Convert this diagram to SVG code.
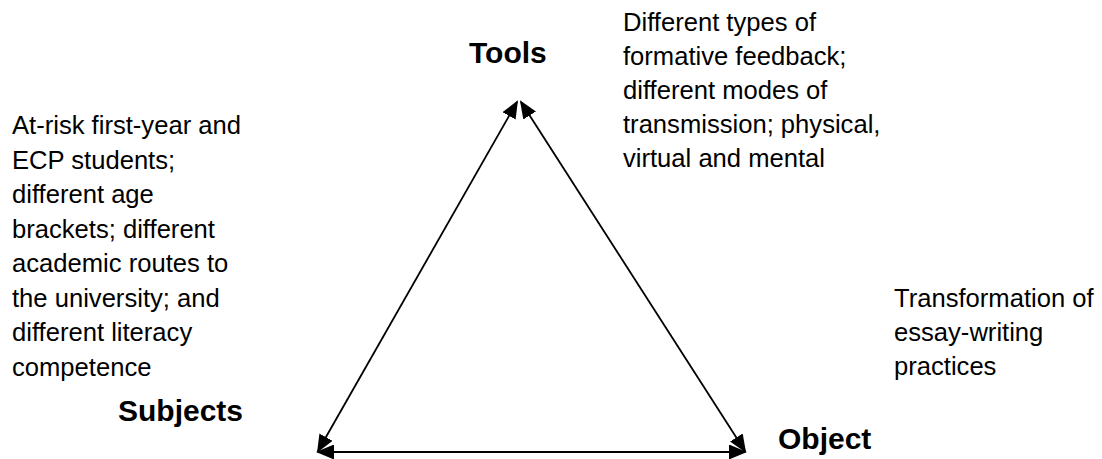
<svg xmlns="http://www.w3.org/2000/svg" width="1102" height="459" viewBox="0 0 1102 459">
<style>
.t{font-family:"Liberation Sans",Arial,sans-serif;font-size:25.6px;fill:#000}
.lbl{font-family:"Liberation Sans",Arial,sans-serif;font-size:30px;font-weight:bold;fill:#000}
.ln{stroke:#000;stroke-width:1.8;fill:none;marker-start:url(#ah);marker-end:url(#ah)}
</style>
<defs>
<marker id="ah" markerUnits="userSpaceOnUse" markerWidth="18" markerHeight="15" refX="16" refY="7.5" orient="auto-start-reverse" viewBox="0 0 18 15">
<path d="M0,0 L18,7.5 L0,15 Z" fill="#000"/>
</marker>
</defs>
<rect width="1102" height="459" fill="#fff"/>
<g id="connectors">
<line class="ln" x1="318" y1="451" x2="517" y2="102"/>
<line class="ln" x1="521" y1="102" x2="745" y2="451"/>
<line class="ln" x1="318" y1="452" x2="745" y2="452"/>
</g>
<g id="tools">
<text class="lbl" x="469" y="63">Tools</text>
<text class="t" x="623" y="31">Different types of</text>
<text class="t" x="623" y="65">formative feedback;</text>
<text class="t" x="623" y="99">different modes of</text>
<text class="t" x="623" y="133">transmission; physical,</text>
<text class="t" x="623" y="167">virtual and mental</text>
</g>
<g id="subjects">
<text class="lbl" x="118" y="421">Subjects</text>
<text class="t" x="12" y="134">At-risk first-year and</text>
<text class="t" x="12" y="168.5">ECP students;</text>
<text class="t" x="12" y="203">different age</text>
<text class="t" x="12" y="237.5">brackets; different</text>
<text class="t" x="12" y="272">academic routes to</text>
<text class="t" x="12" y="306.5">the university; and</text>
<text class="t" x="12" y="341">different literacy</text>
<text class="t" x="12" y="375.5">competence</text>
</g>
<g id="object">
<text class="lbl" x="778" y="449">Object</text>
<text class="t" x="894" y="307">Transformation of</text>
<text class="t" x="894" y="341">essay-writing</text>
<text class="t" x="894" y="375">practices</text>
</g>
</svg>
